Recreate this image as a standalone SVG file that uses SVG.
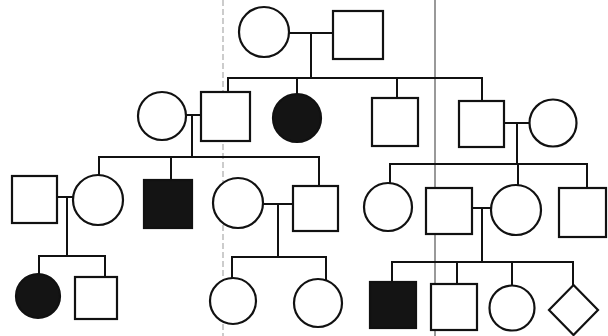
<svg xmlns="http://www.w3.org/2000/svg" width="608" height="336" viewBox="0 0 608 336">
<style>
.n{fill:#fff;stroke:#111;stroke-width:2.2}
.a{fill:#141414;stroke:#111;stroke-width:2.2}
.c{fill:none;stroke:#111;stroke-width:2;stroke-linecap:square}
.fold1{stroke:#999;stroke-width:1;stroke-dasharray:6 3}
.fold2{stroke:#555;stroke-width:1.2}
</style>
<rect width="608" height="336" fill="#fff"/>
<line class="fold1" x1="223" y1="0" x2="223" y2="336"/>
<line class="fold2" x1="435" y1="0" x2="435" y2="336"/>
<g id="connectors">
<path class="c" d="M289 33H333M311 33V78M228 78H482V101M228 78V92M297 78V94M397 78V98"/>
<path class="c" d="M186 115H201M192 115V157M100 157H319V186M99 157V175M171 157V180"/>
<path class="c" d="M504 123H530M517 123V164M390 164H587V188M390 164V183M518 164V184"/>
<path class="c" d="M57 197H73M67 197V256M39 256H105V277M39 256V274"/>
<path class="c" d="M263 204H293M278 204V257M232 257H326V279M232 257V278"/>
<path class="c" d="M472 208H491M482 208V262M392 262H573V285M392 262V282M457 262V284M512 262V285"/>
</g>
<g id="I-1"><circle class="n" cx="264" cy="32" r="25"/></g>
<g id="I-2"><rect class="n" x="333" y="11" width="50" height="48"/></g>
<g id="II-1"><circle class="n" cx="162" cy="116" r="24"/></g>
<g id="II-2"><rect class="n" x="201" y="92" width="49" height="49"/></g>
<g id="II-3"><circle class="a" cx="297" cy="118" r="24"/></g>
<g id="II-4"><rect class="n" x="372" y="98" width="46" height="48"/></g>
<g id="II-5"><rect class="n" x="459" y="101" width="45" height="46"/></g>
<g id="II-6"><circle class="n" cx="553" cy="123" r="23.5"/></g>
<g id="III-1"><rect class="n" x="12" y="176" width="45" height="47"/></g>
<g id="III-2"><circle class="n" cx="98" cy="200" r="25"/></g>
<g id="III-3"><rect class="a" x="144" y="180" width="48" height="48"/></g>
<g id="III-4"><circle class="n" cx="238" cy="203" r="25"/></g>
<g id="III-5"><rect class="n" x="293" y="186" width="45" height="45"/></g>
<g id="III-6"><circle class="n" cx="388" cy="207" r="24"/></g>
<g id="III-7"><rect class="n" x="426" y="188" width="46" height="46"/></g>
<g id="III-8"><circle class="n" cx="516" cy="210" r="25"/></g>
<g id="III-9"><rect class="n" x="559" y="188" width="47" height="49"/></g>
<g id="IV-1"><circle class="a" cx="38" cy="296" r="22"/></g>
<g id="IV-2"><rect class="n" x="75" y="277" width="42" height="42"/></g>
<g id="IV-3"><circle class="n" cx="233" cy="301" r="23"/></g>
<g id="IV-4"><circle class="n" cx="318" cy="303" r="24"/></g>
<g id="IV-5"><rect class="a" x="370" y="282" width="46" height="46"/></g>
<g id="IV-6"><rect class="n" x="431" y="284" width="46" height="46"/></g>
<g id="IV-7"><circle class="n" cx="512" cy="308" r="22.5"/></g>
<g id="IV-8"><polygon class="n" points="573.5,285 598,310 573.5,335 549,310"/></g>
</svg>
